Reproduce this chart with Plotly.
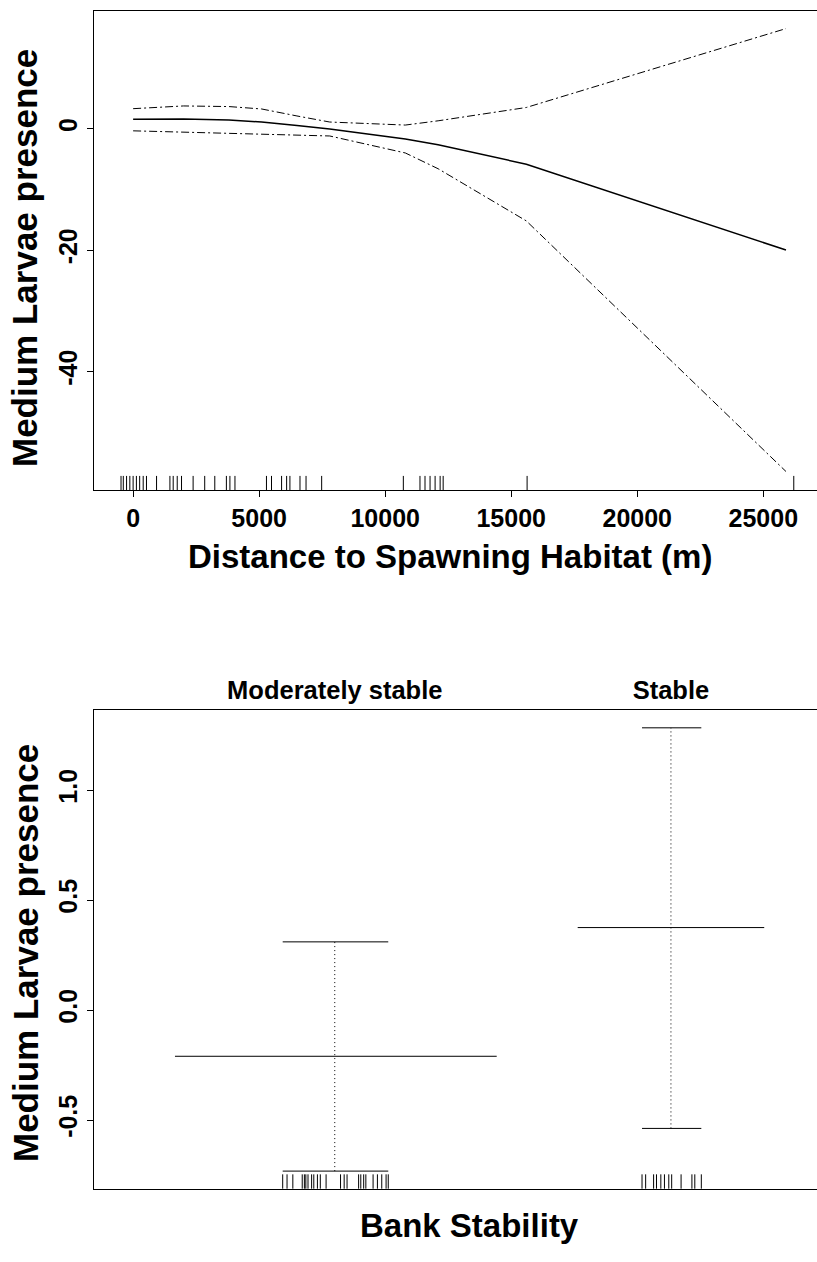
import plotly.graph_objects as go

W, H = 817, 1262

# ---------------- Top panel: smooth term for distance ----------------
dist_m = [0, 2000, 3800, 5100, 6500, 7800, 10800, 12100, 15600, 25900]
fit_top = [1.55, 1.6, 1.45, 1.1, 0.53, -0.05, -1.7, -2.65, -5.85, -20.0]
upper_top = [3.3, 3.75, 3.65, 3.25, 2.1, 1.1, 0.6, 1.3, 3.5, 16.5]
lower_top = [-0.35, -0.55, -0.75, -0.9, -1.05, -1.2, -4.0, -6.6, -15.2, -56.5]
rug_top = [-480, -390, -260, -130, 0, 130, 260, 400, 530, 930, 1460, 1590, 1750,
           1920, 2380, 2840, 3240, 3700, 3840, 4040, 5290, 5490, 5890, 6090, 6220,
           6620, 6860, 7480, 10720, 11380, 11580, 11780, 11980, 12180, 12300,
           15630, 26210]
x_ticks_top = [0, 5000, 10000, 15000, 20000, 25000]
x_ticklabels_top = ["0", "5000", "10000", "15000", "20000", "25000"]
y_ticks_top = [0, -20, -40]
y_ticklabels_top = ["0", "-20", "-40"]

# ---------------- Bottom panel: factor term for bank stability ----------------
categories = ["Moderately stable", "Stable"]
cat_pos = [33.3, 79.8]
est_bot = [-0.21, 0.375]
upper_bot = [0.31, 1.283]
lower_bot = [-0.732, -0.538]
est_left = [11.2, 66.9]
est_right = [55.7, 92.7]
cap_left = [26.1, 75.8]
cap_right = [40.7, 84.0]
rug_bot = [26.1, 26.7, 27.5, 28.8, 29.1, 29.3, 29.6, 30.1, 30.4, 30.9, 31.3, 32.1,
           34.1, 34.6, 35.0, 36.6, 36.9, 37.3, 37.6, 38.6, 39.2, 39.8, 40.4, 40.7,
           75.8, 76.3, 77.4, 77.8, 78.4, 78.9, 79.5, 79.9, 81.2, 82.7, 83.1, 84.0]
y_ticks_bot = [-0.5, 0.0, 0.5, 1.0]
y_ticklabels_bot = ["-0.5", "0.0", "0.5", "1.0"]

FONT = "Liberation Sans, Arial, sans-serif"


def px_x(p):
    return p / W


def px_y(p):
    return 1 - p / H


fig = go.Figure()

ci_dash = "8px,3px,2px,3px"
fig.add_trace(go.Scatter(x=dist_m, y=upper_top, mode="lines",
                         line=dict(color="black", width=1, dash=ci_dash),
                         xaxis="x", yaxis="y", showlegend=False))
fig.add_trace(go.Scatter(x=dist_m, y=lower_top, mode="lines",
                         line=dict(color="black", width=1, dash=ci_dash),
                         xaxis="x", yaxis="y", showlegend=False))
fig.add_trace(go.Scatter(x=dist_m, y=fit_top, mode="lines",
                         line=dict(color="black", width=1.5),
                         xaxis="x", yaxis="y", showlegend=False))

# bottom panel segments
ex, ey, cx, cy, vx, vy = [], [], [], [], [], []
for i in range(len(categories)):
    ex += [est_left[i], est_right[i], None]
    ey += [est_bot[i], est_bot[i], None]
    for v in (upper_bot[i], lower_bot[i]):
        cx += [cap_left[i], cap_right[i], None]
        cy += [v, v, None]
    vx += [cat_pos[i], cat_pos[i], None]
    vy += [lower_bot[i], upper_bot[i], None]

fig.add_trace(go.Scatter(x=vx, y=vy, mode="lines",
                         line=dict(color="black", width=1, dash="1px,3px"),
                         xaxis="x2", yaxis="y2", showlegend=False))
fig.add_trace(go.Scatter(x=ex, y=ey, mode="lines",
                         line=dict(color="black", width=1),
                         xaxis="x2", yaxis="y2", showlegend=False))
fig.add_trace(go.Scatter(x=cx, y=cy, mode="lines",
                         line=dict(color="black", width=1),
                         xaxis="x2", yaxis="y2", showlegend=False))

shapes = []
for r in rug_top:
    shapes.append(dict(type="line", xref="x", yref="y domain", x0=r, x1=r, y0=0, y1=0.03,
                       line=dict(color="black", width=1)))
for r in rug_bot:
    shapes.append(dict(type="line", xref="x2", yref="y2 domain", x0=r, x1=r, y0=0, y1=0.03,
                       line=dict(color="black", width=1)))

tickfont = dict(family=FONT, size=25, color="black", weight="bold")
titlefont = dict(family=FONT, size=33, color="black", weight="bold")
ytitlefont = dict(family=FONT, size=35, color="black", weight="bold")

top_dom_y = [px_y(490.3), px_y(11)]
bot_dom_y = [px_y(1188.7), px_y(710)]
dom_x = [px_x(94), 1.0]

fig.update_layout(
    width=W, height=H,
    margin=dict(l=0, r=0, t=0, b=0),
    paper_bgcolor="white", plot_bgcolor="white",
    showlegend=False,
    shapes=shapes,
    xaxis=dict(domain=dom_x, range=[-1552, 27131], anchor="y",
               showline=True, linecolor="black", linewidth=1, mirror=True,
               ticks="outside", ticklen=6, tickcolor="black", tickwidth=1,
               tickvals=x_ticks_top, ticktext=x_ticklabels_top, tickfont=tickfont,
               showgrid=False, zeroline=False),
    yaxis=dict(domain=top_dom_y, range=[-59.6, 19.4], anchor="x",
               showline=True, linecolor="black", linewidth=1, mirror=False,
               ticks="outside", ticklen=6, tickcolor="black", tickwidth=1,
               tickvals=y_ticks_top, ticktext=y_ticklabels_top, tickfont=tickfont,
               tickangle=-90, showgrid=False, zeroline=False),
    xaxis2=dict(domain=dom_x, range=[0, 100], anchor="y2", side="top",
                showline=True, linecolor="black", linewidth=1, mirror=True,
                ticks="", tickvals=cat_pos, ticktext=categories,
                tickfont=dict(family=FONT, size=25.5, color="black", weight="bold"),
                showgrid=False, zeroline=False),
    yaxis2=dict(domain=bot_dom_y, range=[-0.812, 1.364], anchor="x2",
                showline=True, linecolor="black", linewidth=1, mirror=False,
                ticks="outside", ticklen=6, tickcolor="black", tickwidth=1,
                tickvals=y_ticks_bot, ticktext=y_ticklabels_bot, tickfont=tickfont,
                tickangle=-90, showgrid=False, zeroline=False),
    annotations=[
        dict(text="Medium Larvae presence", xref="paper", yref="paper",
             x=px_x(25), y=px_y(258), textangle=-90, showarrow=False,
             xanchor="center", yanchor="middle", font=ytitlefont),
        dict(text="Distance to Spawning Habitat (m)", xref="paper", yref="paper",
             x=px_x(450), y=px_y(556), showarrow=False,
             xanchor="center", yanchor="middle", font=titlefont),
        dict(text="Medium Larvae presence", xref="paper", yref="paper",
             x=px_x(25), y=px_y(953), textangle=-90, showarrow=False,
             xanchor="center", yanchor="middle", font=ytitlefont),
        dict(text="Bank Stability", xref="paper", yref="paper",
             x=px_x(470), y=px_y(1225), showarrow=False,
             xanchor="center", yanchor="middle", font=titlefont),
    ],
)

fig.write_html("out.html")
